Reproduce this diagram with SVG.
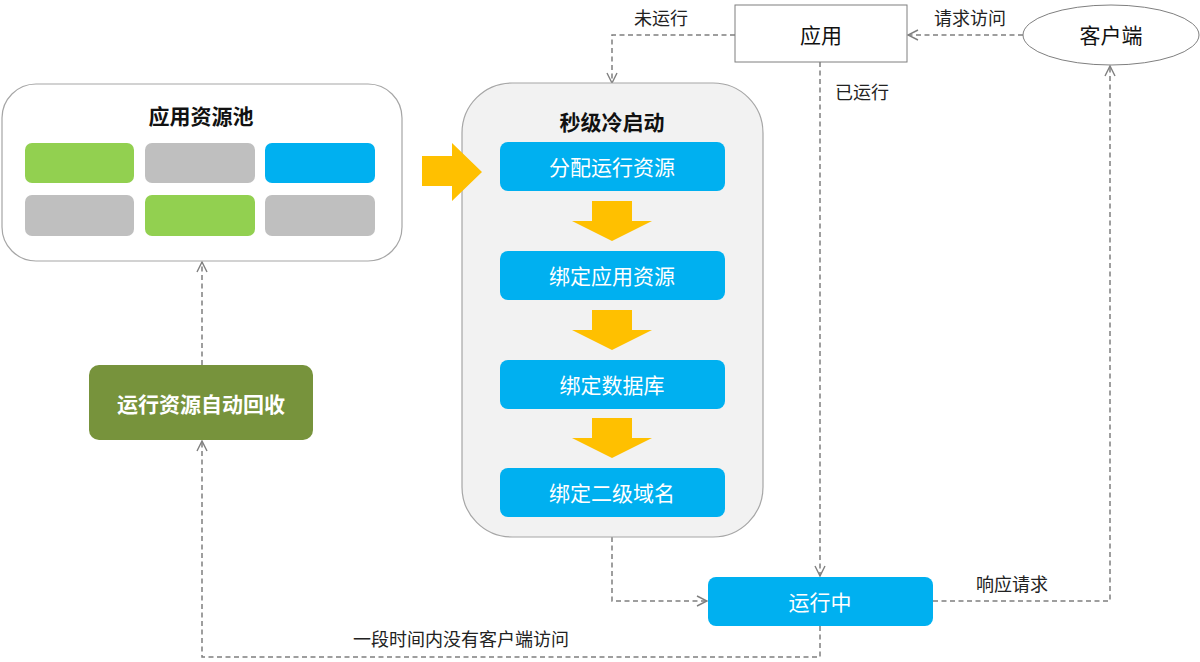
<svg xmlns="http://www.w3.org/2000/svg" width="1200" height="662" viewBox="0 0 1200 662">
<defs>
<style>
text{font-family:"Microsoft YaHei","Noto Sans CJK SC",sans-serif;text-anchor:middle;dominant-baseline:central}
.lbl{font-size:18px;fill:#222}
.step{fill:#00B0F0}
.stxt{font-size:21px;fill:#fff}
.title{font-size:21px;font-weight:bold;fill:#111}
.conn{fill:none;stroke:#7F7F7F;stroke-width:1.5;stroke-dasharray:5 3.5}
.ya{fill:#FFC000}
</style>
<marker id="ah" viewBox="0 0 12 12" refX="11" refY="6" markerWidth="12" markerHeight="12" markerUnits="userSpaceOnUse" orient="auto">
<path d="M1,1 L11,6 L1,11" fill="none" stroke="#7F7F7F" stroke-width="1.4"/>
</marker>
</defs>
<rect width="1200" height="662" fill="#fff"/>

<g id="connectors">
<path class="conn" d="M1023,35 H908" marker-end="url(#ah)"/>
<path class="conn" d="M735,35 H612 V83" marker-end="url(#ah)"/>
<path class="conn" d="M820,62 V576" marker-end="url(#ah)"/>
<path class="conn" d="M612,537 V601 H707" marker-end="url(#ah)"/>
<path class="conn" d="M933,601 H1110 V66" marker-end="url(#ah)"/>
<path class="conn" d="M820,626 V657 H202 V441" marker-end="url(#ah)"/>
<path class="conn" d="M202,365 V262" marker-end="url(#ah)"/>
<text class="lbl" x="970" y="17">请求访问</text>
<text class="lbl" x="661" y="17">未运行</text>
<text class="lbl" x="862" y="91">已运行</text>
<text class="lbl" x="1012" y="583">响应请求</text>
<text class="lbl" x="461" y="638">一段时间内没有客户端访问</text>
</g>

<g id="app">
<rect x="735" y="5" width="172" height="57" fill="#fff" stroke="#7F7F7F" stroke-width="1"/>
<text x="821" y="34" style="font-size:21px;fill:#111">应用</text>
</g>

<g id="client">
<ellipse cx="1111" cy="35" rx="88" ry="30" fill="#fff" stroke="#7F7F7F" stroke-width="1"/>
<text x="1111" y="34" style="font-size:21px;fill:#111">客户端</text>
</g>

<g id="pool">
<rect x="2" y="84" width="400" height="177" rx="34" fill="#fff" stroke="#A6A6A6" stroke-width="1.2"/>
<text class="title" x="201" y="115">应用资源池</text>
<rect x="25" y="143" width="109" height="40" rx="7" fill="#92D050"/>
<rect x="145" y="143" width="110" height="40" rx="7" fill="#BFBFBF"/>
<rect x="265" y="143" width="110" height="40" rx="7" fill="#00B0F0"/>
<rect x="25" y="195" width="109" height="41" rx="7" fill="#BFBFBF"/>
<rect x="145" y="195" width="110" height="41" rx="7" fill="#92D050"/>
<rect x="265" y="195" width="110" height="41" rx="7" fill="#BFBFBF"/>
</g>

<g id="coldstart">
<rect x="462" y="83" width="301" height="454" rx="50" fill="#F2F2F2" stroke="#A6A6A6" stroke-width="1.2"/>
<text class="title" x="612" y="121">秒级冷启动</text>
</g>

<g id="bigarrow">
<polygon class="ya" points="422,156 452,156 452,143 482,172 452,201 452,186 422,186"/>
</g>

<g id="step1">
<rect class="step" x="500" y="142" width="225" height="49" rx="8"/>
<text class="stxt" x="612" y="166">分配运行资源</text>
</g>
<g id="down1"><polygon class="ya" points="592,201 632,201 632,221 652,221 612,241 572,221 592,221"/></g>
<g id="step2">
<rect class="step" x="500" y="251" width="225" height="49" rx="8"/>
<text class="stxt" x="612" y="275">绑定应用资源</text>
</g>
<g id="down2"><polygon class="ya" points="592,310 632,310 632,330 652,330 612,350 572,330 592,330"/></g>
<g id="step3">
<rect class="step" x="500" y="360" width="225" height="49" rx="8"/>
<text class="stxt" x="612" y="384">绑定数据库</text>
</g>
<g id="down3"><polygon class="ya" points="592,418 632,418 632,438 652,438 612,458 572,438 592,438"/></g>
<g id="step4">
<rect class="step" x="500" y="468" width="225" height="49" rx="8"/>
<text class="stxt" x="612" y="492">绑定二级域名</text>
</g>

<g id="recycle">
<rect x="89" y="365" width="224" height="75" rx="10" fill="#77933C"/>
<text x="201" y="403" style="font-size:21px;font-weight:bold;fill:#fff">运行资源自动回收</text>
</g>

<g id="running">
<rect class="step" x="708" y="577" width="225" height="49" rx="8"/>
<text class="stxt" x="820" y="601">运行中</text>
</g>
</svg>
